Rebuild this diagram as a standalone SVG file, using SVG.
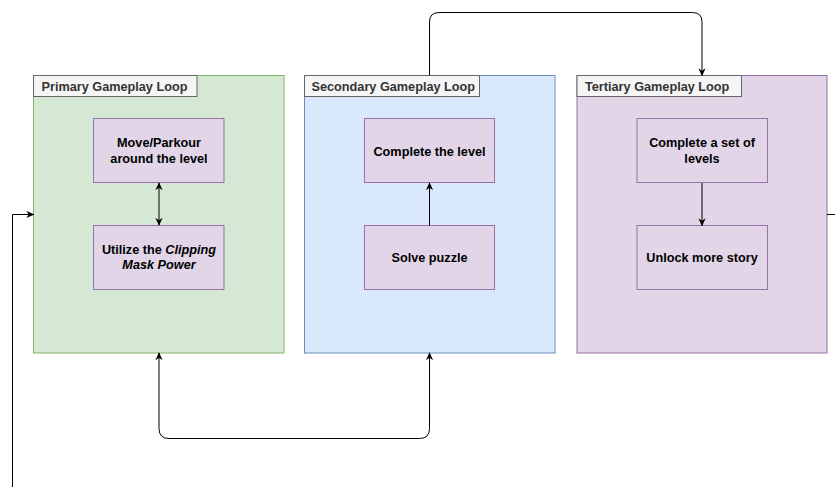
<svg xmlns="http://www.w3.org/2000/svg" width="835" height="487" viewBox="0 0 835 487">
<style>
.t{font-family:"Liberation Sans",Arial,sans-serif;font-size:12.7px;font-weight:bold;fill:#000;text-anchor:middle}
.lbl{font-family:"Liberation Sans",Arial,sans-serif;font-size:12.7px;font-weight:bold;fill:#333}
.lb{fill:#f5f5f5;stroke:#666;stroke-width:1}
.n{fill:#e1d5e7;stroke:#9673a6;stroke-width:1}
.c{fill:none;stroke:#000;stroke-width:1}
</style>
<defs>
<marker id="a" viewBox="0 0 10 10" refX="9" refY="5" markerWidth="8" markerHeight="8" orient="auto-start-reverse" markerUnits="userSpaceOnUse">
<path d="M0,0.5 L10,5 L0,9.5 L3,5 z" fill="#000"/>
</marker>
</defs>
<g id="primary">
<rect x="33.5" y="75.5" width="250.5" height="277.5" fill="#d5e8d4" stroke="#82b366"/>
<rect class="lb" x="33.5" y="75.5" width="163.5" height="21"/>
<text class="lbl" x="41.5" y="90.5">Primary Gameplay Loop</text>
</g>
<g id="secondary">
<rect x="304.5" y="75.5" width="250.5" height="277.5" fill="#dae8fc" stroke="#6c8ebf"/>
<rect class="lb" x="304.5" y="75.5" width="175" height="21"/>
<text class="lbl" x="311.5" y="90.5">Secondary Gameplay Loop</text>
</g>
<g id="tertiary">
<rect x="577" y="75.5" width="250" height="277.5" fill="#e1d5e7" stroke="#9673a6"/>
<rect class="lb" x="577" y="75.5" width="164.5" height="21"/>
<text class="lbl" x="585" y="90.5">Tertiary Gameplay Loop</text>
</g>
<g id="move">
<rect class="n" x="93.5" y="118.5" width="130.5" height="64"/>
<text class="t" x="159" y="147">Move/Parkour</text>
<text class="t" x="159" y="163">around the level</text>
</g>
<g id="utilize">
<rect class="n" x="93.5" y="225.5" width="130.5" height="64"/>
<text class="t" x="159" y="254">Utilize the <tspan font-style="italic">Clipping</tspan></text>
<text class="t" x="159" y="269" font-style="italic">Mask Power</text>
</g>
<g id="complete-level">
<rect class="n" x="364.5" y="118.5" width="130" height="64"/>
<text class="t" x="429.5" y="155.5">Complete the level</text>
</g>
<g id="solve">
<rect class="n" x="364.5" y="225.5" width="130" height="64"/>
<text class="t" x="429.5" y="262">Solve puzzle</text>
</g>
<g id="complete-set">
<rect class="n" x="637" y="118.5" width="130.5" height="64"/>
<text class="t" x="702" y="147">Complete a set of</text>
<text class="t" x="702" y="163">levels</text>
</g>
<g id="unlock">
<rect class="n" x="637" y="225.5" width="130.5" height="64"/>
<text class="t" x="702" y="262">Unlock more story</text>
</g>
<g id="connectors">
<path class="c" d="M159,183 L159,225" marker-start="url(#a)" marker-end="url(#a)"/>
<path class="c" d="M429.5,225.5 L429.5,183" marker-end="url(#a)"/>
<path class="c" d="M702,183 L702,225.5" marker-end="url(#a)"/>
<path class="c" d="M429.5,75.5 L429.5,22 Q429.5,12.5 439,12.5 L692.5,12.5 Q702,12.5 702,22 L702,75.5" marker-end="url(#a)"/>
<path class="c" d="M159,353 L159,428.5 Q159,438.5 169,438.5 L419.5,438.5 Q429.5,438.5 429.5,428.5 L429.5,353" marker-start="url(#a)" marker-end="url(#a)"/>
<path class="c" d="M827,214.5 L835,214.5"/>
<path class="c" d="M12.5,487 L12.5,214.5 L33.5,214.5" marker-end="url(#a)"/>
</g>
</svg>
